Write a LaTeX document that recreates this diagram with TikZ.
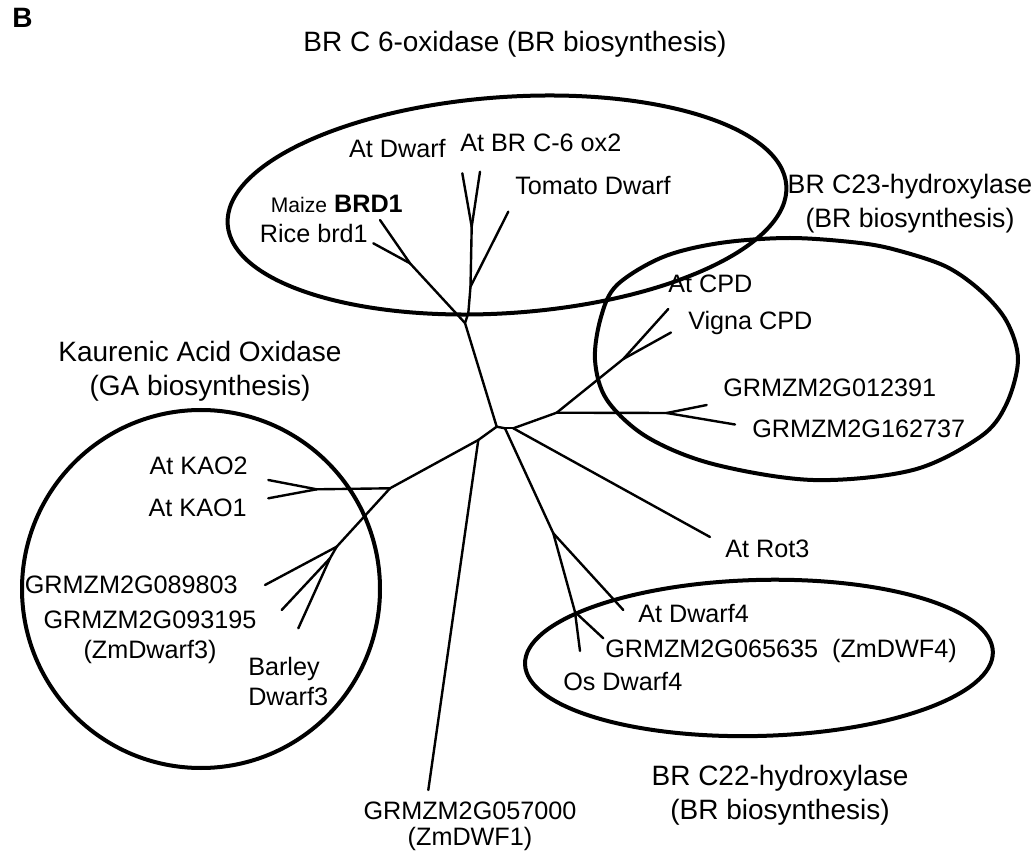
\documentclass[tikz,border=0pt]{standalone}
\usepackage{fontspec}
\setmainfont{Liberation Sans}
\usepackage{tkz-euclide}
\tikzset{
  leaf/.style={font=\fontsize{18.9}{22.5}\selectfont,inner sep=0pt},
  clade/.style={font=\fontsize{21}{25.5}\selectfont,inner sep=0pt,align=center,anchor=base},
  ring/.style={line width=3pt,line join=round}
}
\begin{document}
\begin{tikzpicture}[x=0.75pt,y=-0.75pt]
\useasboundingbox (0,0) rectangle (1033,859);
\tkzDefPoints{507/205/cTop, 201/589/cLft, 759/658/cBot}
\tkzDefPoints{496.7/426.7/R, 505/428.3/S, 513.3/428.3/T, 465/323/U, 468.3/313.3/V, 470.5/286.7/W, 471.7/226.7/X, 410/263.3/Y}
\tkzDefPoints{553.3/533.3/D, 575/612/E, 556.7/412.7/F, 666.7/413/G, 623.3/359/H}
\tkzDefPoints{478.3/440/N, 390/488.3/O, 316.7/489.3/P, 336.7/546.7/Q, 330/558.3/K}
\tkzDefPoints{462.3/173.3/dwf, 480/171.7/brc, 508.3/211.7/tom, 380/220/brd, 373.3/243.3/ric}
\tkzDefPoints{668.3/309/cpd, 671/332.5/vig, 706.7/405/gA, 735/424.5/gB, 710/537/rot}
\tkzDefPoints{623.3/610/dw4, 603.3/638.3/gC, 580/651/osd, 428.3/790/gD}
\tkzDefPoints{268.3/480/ka2, 268.3/498.3/ka1, 265/585/gE, 281.7/610/gF, 298.3/628.3/bar}
\tkzDrawSegments[line width=1.8pt,line cap=round](R,S S,T R,U U,V V,W W,X U,Y Y,brd Y,ric X,dwf X,brc W,tom)
\tkzDrawSegments[line width=1.8pt,line cap=round](S,D D,dw4 D,E E,gC E,osd T,rot T,F F,G G,gA G,gB F,H H,cpd H,vig)
\tkzDrawSegments[line width=1.8pt,line cap=round](R,N N,gD N,O O,P P,ka2 P,ka1 O,Q Q,gE Q,K K,gF K,bar)
\draw[ring,rotate around={4:(cTop)}] (cTop) ellipse [x radius=280,y radius=108];
\draw[ring] plot[smooth cycle,tension=0.55] coordinates {(595,360) (601,317) (617,285) (663,257) (720,243) (790,238) (860,243) (900,251) (947,267) (982,292) (1007,322) (1018,360) (1006,405) (980,437) (913,470) (813,480) (713,464) (647,437) (607,400)};
\draw[ring] (cLft) circle [radius=179];
\draw[ring,rotate around={1.5:(cBot)}] (cBot) ellipse [x radius=234,y radius=78];
\node[font=\bfseries\fontsize{21}{22}\selectfont,inner sep=0pt,anchor=base west] (panel) at (12,28) {B};
\node[clade] (tBRsix) at (515,52) {BR C 6-oxidase (BR biosynthesis)};
\node[clade,font=\fontsize{20}{25.5}\selectfont] (tBRtwothree) at (910,228) {BR C23-hydroxylase\\(BR biosynthesis)};
\node[clade] (tKAO) at (200,396) {Kaurenic Acid Oxidase\\(GA biosynthesis)};
\node[clade] (tBRtwotwo) at (780,819) {BR C22-hydroxylase\\(BR biosynthesis)};
\node[leaf,anchor=base east] (Ldwf) at (446,158) {At Dwarf};
\node[leaf,anchor=base west] (Lbrc) at (460,152) {At BR C-6 ox2};
\node[leaf,anchor=base west] (Ltom) at (515,195) {Tomato Dwarf};
\node[leaf,anchor=base east] (Lbrd) at (403,213) {{\fontsize{15.8}{18}\selectfont Maize} \textbf{BRD1}};
\node[leaf,anchor=base east] (Lric) at (368,243) {Rice brd1};
\node[leaf,anchor=base west] (Lcpd) at (668,293) {At CPD};
\node[leaf,anchor=base west] (Lvig) at (688,330) {Vigna CPD};
\node[leaf,anchor=base west] (LgA) at (723,397) {GRMZM2G012391};
\node[leaf,anchor=base west] (LgB) at (752,438) {GRMZM2G162737};
\node[leaf,anchor=base west] (Lrot) at (725,557) {At Rot3};
\node[leaf,anchor=base west] (Ldw4) at (638,622) {At Dwarf4};
\node[leaf,anchor=base west] (LgC) at (605,657) {GRMZM2G065635\ \ (ZmDWF4)};
\node[leaf,anchor=base west] (Losd) at (563,690) {Os Dwarf4};
\node[leaf,anchor=base,align=center,font=\fontsize{18.9}{19}\selectfont] (LgD) at (470,845) {GRMZM2G057000\\(ZmDWF1)};
\node[leaf,anchor=base east] (Lka2) at (248,475) {At KAO2};
\node[leaf,anchor=base east] (Lka1) at (247,517) {At KAO1};
\node[leaf,anchor=base east] (LgE) at (238,593) {GRMZM2G089803};
\node[leaf,anchor=base,align=center] (LgF) at (150,658) {GRMZM2G093195\\(ZmDwarf3)};
\node[leaf,anchor=base west,align=left] (Lbar) at (248,705) {Barley\\Dwarf3};
\end{tikzpicture}
\end{document}
